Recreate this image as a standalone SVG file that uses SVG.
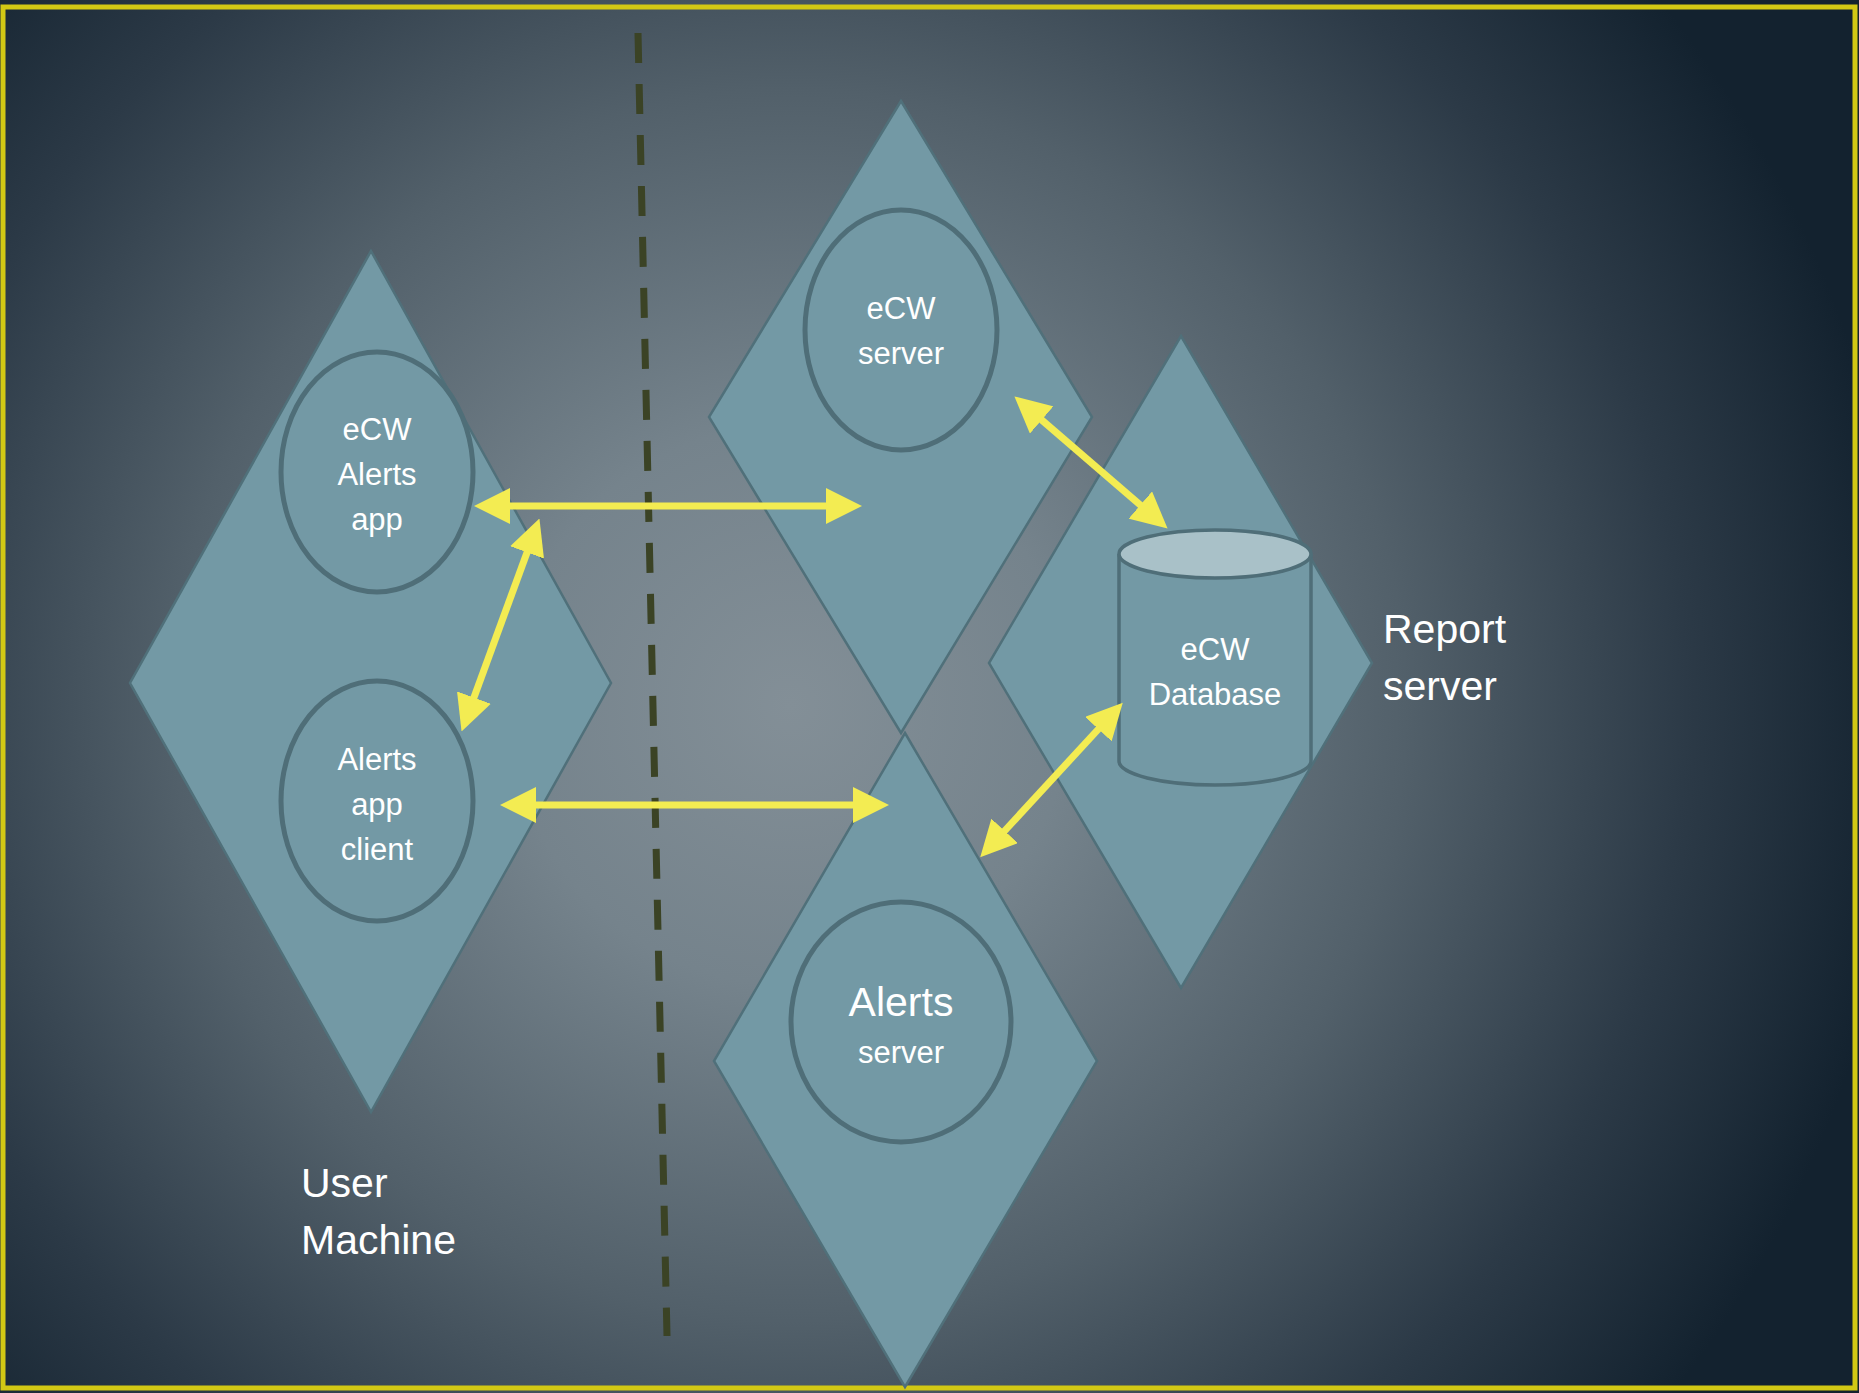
<svg xmlns="http://www.w3.org/2000/svg" width="1859" height="1393" viewBox="0 0 1859 1393">
<defs>
<radialGradient id="bg" gradientUnits="userSpaceOnUse" cx="790" cy="705" r="1120">
<stop offset="0" stop-color="#838f97"/>
<stop offset="0.25" stop-color="#75838c"/>
<stop offset="0.55" stop-color="#52606a"/>
<stop offset="0.8" stop-color="#2c3a47"/>
<stop offset="1" stop-color="#13222f"/>
</radialGradient>
<marker id="ah" markerUnits="userSpaceOnUse" viewBox="0 0 36 36" markerWidth="36" markerHeight="36" refX="26" refY="18" orient="auto-start-reverse">
<path d="M0,0 L36,18 L0,36 z" fill="#f3ec52"/>
</marker>
<style>
.dia{fill:#7399a5;stroke:#50707a;stroke-width:2.5}
.ell{fill:#7399a5;stroke:#4f6e78;stroke-width:5}
.lbl{font-family:"Liberation Sans",Arial,sans-serif;fill:#ffffff;text-anchor:middle;font-size:31px}
.big{font-family:"Liberation Sans",Arial,sans-serif;fill:#ffffff;font-size:41px}
.con{stroke:#f3ec52;stroke-width:7;fill:none;marker-start:url(#ah);marker-end:url(#ah)}
</style>
</defs>
<rect x="0" y="0" width="1859" height="1393" fill="url(#bg)"/>
<rect x="3" y="7" width="1852" height="1381" fill="none" stroke="#d2c814" stroke-width="5"/>
<line x1="638" y1="33" x2="667" y2="1336" stroke="#3b4325" stroke-width="7" stroke-dasharray="30 21"/>

<g id="user-machine">
<polygon class="dia" points="371,251 611,683 371,1112 130,683"/>
<text class="big" x="301" y="1197">User</text>
<text class="big" x="301" y="1254">Machine</text>
</g>
<g id="ecw-server">
<polygon class="dia" points="901,101 1092,417 901,733 709,417"/>
</g>
<g id="report-server">
<polygon class="dia" points="1181,336 1372,663 1181,988 989,663"/>
<text class="big" x="1383" y="643">Report</text>
<text class="big" x="1383" y="700">server</text>
</g>
<g id="alerts-server-box">
<polygon class="dia" points="905,733 1097,1061 905,1387 714,1061"/>
</g>
<g id="ecw-alerts-app">
<ellipse class="ell" cx="377" cy="472" rx="96" ry="120"/>
<text class="lbl" x="377" y="440">eCW</text>
<text class="lbl" x="377" y="485">Alerts</text>
<text class="lbl" x="377" y="530">app</text>
</g>
<g id="alerts-app-client">
<ellipse class="ell" cx="377" cy="801" rx="96" ry="120"/>
<text class="lbl" x="377" y="770">Alerts</text>
<text class="lbl" x="377" y="815">app</text>
<text class="lbl" x="377" y="860">client</text>
</g>
<g id="ecw-server-node">
<ellipse class="ell" cx="901" cy="330" rx="96" ry="120"/>
<text class="lbl" x="901" y="319">eCW</text>
<text class="lbl" x="901" y="364">server</text>
</g>
<g id="alerts-server">
<ellipse class="ell" cx="901" cy="1022" rx="110" ry="120"/>
<text class="lbl" x="901" y="1016" style="font-size:41px">Alerts</text>
<text class="lbl" x="901" y="1063">server</text>
</g>
<g id="ecw-database">
<path d="M1119,554 L1119,761 A96,24 0 0 0 1311,761 L1311,554" fill="#7399a5" stroke="#4f6e78" stroke-width="3.5"/>
<ellipse cx="1215" cy="554" rx="96" ry="24" fill="#a9c1c8" stroke="#4f6e78" stroke-width="3.5"/>
<text class="lbl" x="1215" y="660">eCW</text>
<text class="lbl" x="1215" y="705">Database</text>
</g>
<g id="connectors">
<line class="con" x1="484" y1="506" x2="852" y2="506"/>
<line class="con" x1="510" y1="805" x2="879" y2="805"/>
<line class="con" x1="536" y1="528" x2="465" y2="722"/>
<line class="con" x1="1022" y1="403" x2="1160" y2="522"/>
<line class="con" x1="1116" y1="710" x2="987" y2="850"/>
</g>
</svg>
